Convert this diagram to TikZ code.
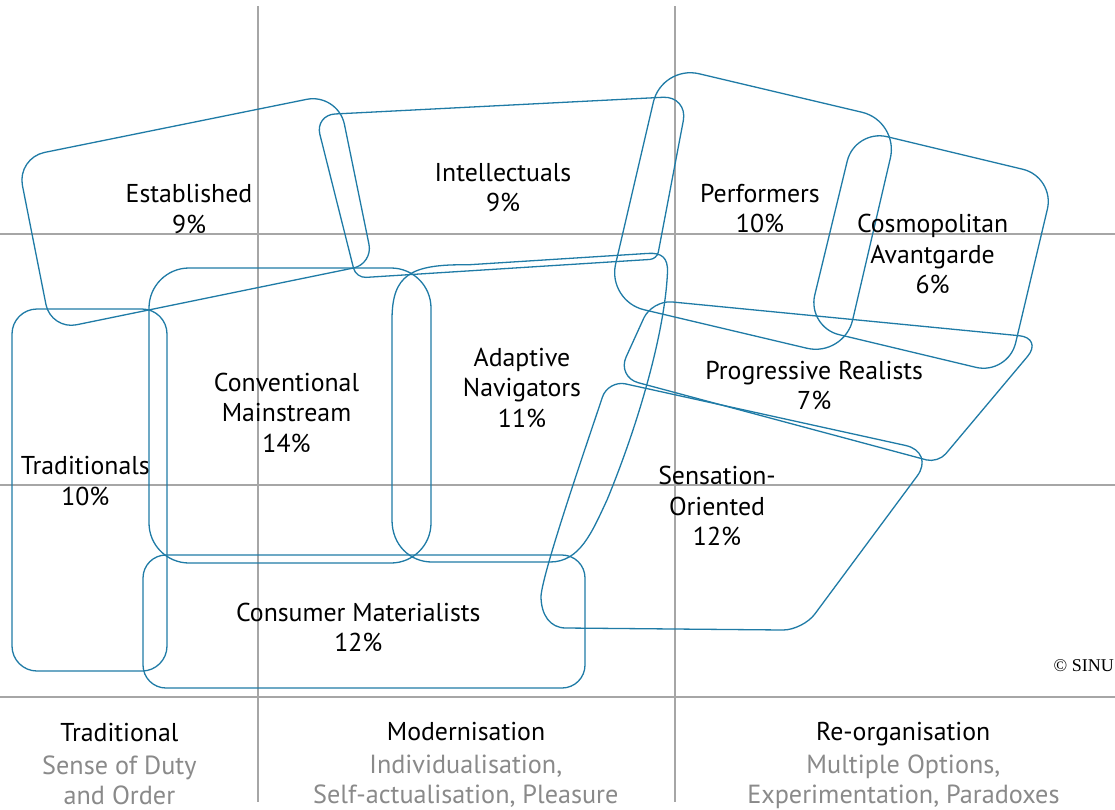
\documentclass[tikz,border=0pt]{standalone}
\usepackage{fontspec}
\setmainfont{PT Sans}
\newfontfamily\crfont{Liberation Serif}
\usetikzlibrary{calc}
\definecolor{segblue}{RGB}{31,123,166}
\definecolor{gridgray}{RGB}{166,166,166}
\definecolor{subgray}{RGB}{138,138,138}
\newcommand\rcor[4]{-- ($(#2)!#4!(#1)$) .. controls ($(#2)!0.45*#4!(#1)$) and ($(#2)!0.45*#4!(#3)$) .. ($(#2)!#4!(#3)$)}
\begin{document}
\begin{tikzpicture}[x=1pt,y=-1pt,
  seg/.style={draw=segblue,line width=1.3pt},
  gridline/.style={draw=gridgray,line width=2pt},
  lab/.style={align=center,inner sep=0pt,font=\fontsize{25.8}{30.5}\selectfont,text=black},
  sub/.style={align=center,inner sep=0pt,font=\fontsize{26.2}{30}\selectfont,text=subgray}]
\useasboundingbox (0,0) rectangle (1115,809);
\fill[white] (0,0) rectangle (1115,809);
% grid
\draw[gridline] (258,6) -- (258,802);
\draw[gridline] (675,6) -- (675,802);
\draw[gridline] (0,234) -- (1115,234);
\draw[gridline] (0,485) -- (1115,485);
\draw[gridline] (0,697) -- (1115,697);
% Established
\coordinate (es1) at (17,158); \coordinate (es2) at (338,93);
\coordinate (es3) at (373,264); \coordinate (es4) at (51,330);
\draw[seg] ($(es1)!28pt!(es2)$) \rcor{es1}{es2}{es3}{32pt} \rcor{es2}{es3}{es4}{20pt} \rcor{es3}{es4}{es1}{26pt} \rcor{es4}{es1}{es2}{28pt} -- cycle;
% Intellectuals
\coordinate (in1) at (315,115); \coordinate (in2) at (688,96);
\coordinate (in3) at (657,259); \coordinate (in4) at (356,278);
\draw[seg] ($(in1)!20pt!(in2)$) \rcor{in1}{in2}{in3}{25pt} \rcor{in2}{in3}{in4}{7pt} \rcor{in3}{in4}{in1}{10pt} \rcor{in4}{in1}{in2}{20pt} -- cycle;
% Performers
\coordinate (pe1) at (662,65); \coordinate (pe2) at (899,121);
\coordinate (pe3) at (844,357); \coordinate (pe4) at (607,301);
\draw[seg] ($(pe1)!38pt!(pe2)$) \rcor{pe1}{pe2}{pe3}{38pt} \rcor{pe2}{pe3}{pe4}{38pt} \rcor{pe3}{pe4}{pe1}{38pt} \rcor{pe4}{pe1}{pe2}{38pt} -- cycle;
% Cosmopolitan Avantgarde
\coordinate (co1) at (855,129); \coordinate (co2) at (1055,177);
\coordinate (co3) at (1008,375); \coordinate (co4) at (807,327);
\draw[seg] ($(co1)!33pt!(co2)$) \rcor{co1}{co2}{co3}{33pt} \rcor{co2}{co3}{co4}{33pt} \rcor{co3}{co4}{co1}{33pt} \rcor{co4}{co1}{co2}{33pt} -- cycle;
% Progressive Realists
\coordinate (pr1) at (652,300); \coordinate (pr2) at (1043,338);
\coordinate (pr3) at (938,463); \coordinate (pr4) at (617,377);
\draw[seg] ($(pr1)!20pt!(pr2)$) \rcor{pr1}{pr2}{pr3}{24pt} \rcor{pr2}{pr3}{pr4}{12pt} \rcor{pr3}{pr4}{pr1}{22pt} \rcor{pr4}{pr1}{pr2}{20pt} -- cycle;
% Conventional Mainstream, Traditionals, Consumer Materialists
\draw[seg,rounded corners=40pt] (149,268) rectangle (431,563);
\draw[seg,rounded corners=25pt] (12,309) rectangle (167,671);
\draw[seg,rounded corners=23pt] (143,555) rectangle (585,688);
% Adaptive Navigators
\draw[seg] (392,520) -- (392,320) .. controls (392,275) and (410,264) .. (468,264.8) -- (648,253.4) .. controls (662,252.5) and (668,258) .. (667.5,272) .. controls (665,330) and (640,420) .. (607,500) .. controls (592,532) and (580,562) .. (550,562) -- (432,562) .. controls (410,562) and (392,545) .. (392,520) -- cycle;
% Sensation-Oriented
\draw[seg] (625.6,383.9) -- (905.7,445.5) .. controls (921.8,449.1) and (927,462.8) .. (917.1,476.1) -- (814.9,613.9) .. controls (808.4,622.8) and (794,630) .. (783,630) -- (566,628) .. controls (550,628) and (541,615) .. (541,596) .. controls (543,570) and (589.2,437.1) .. (602.4,397.1) .. controls (605.5,387.7) and (615.9,381.7) .. (625.6,383.9) -- cycle;
% labels
\node[lab] (established) at (189,211.9) {\strut Established\\\strut 9\%};
\node[lab] (intellectuals) at (503,190.4) {\strut Intellectuals\\\strut 9\%};
\node[lab] (performers) at (760,211.2) {\strut Performers\\\strut 10\%};
\node[lab] (cosmo) at (932.6,257.2) {\strut Cosmopolitan\\\strut Avantgarde\\\strut 6\%};
\node[lab] (conventional) at (286.5,415.6) {\strut Conventional\\\strut Mainstream\\\strut 14\%};
\node[lab] (adaptive) at (522,390.6) {\strut Adaptive\\\strut Navigators\\\strut 11\%};
\node[lab] (progressive) at (814.2,388.2) {\strut Progressive Realists\\\strut 7\%};
\node[lab] (traditionals) at (85.3,483.9) {\strut Traditionals\\\strut 10\%};
\node[lab] (sensation) at (717,509) {\strut Sensation-\\\strut Oriented\\\strut 12\%};
\node[lab] (consumer) at (358.3,630.5) {\strut Consumer Materialists\\\strut 12\%};
\node[lab] (tradtitle) at (119.4,734.9) {\strut Traditional};
\node[sub] (tradsub) at (119.4,783) {\strut Sense of Duty\\\strut and Order};
\node[lab] (modtitle) at (466,734.4) {\strut Modernisation};
\node[sub] (modsub) at (465.8,782.4) {\strut Individualisation,\\\strut Self-actualisation, Pleasure};
\node[lab] (reotitle) at (903.2,733.9) {\strut Re-organisation};
\node[sub] (reosub) at (903.4,782.4) {\strut Multiple Options,\\\strut Experimentation, Paradoxes};
\node[anchor=base east,inner sep=0pt,font=\crfont\fontsize{18}{21}\selectfont] (copyright) at (1114,671) {© SINU};
\end{tikzpicture}
\end{document}
